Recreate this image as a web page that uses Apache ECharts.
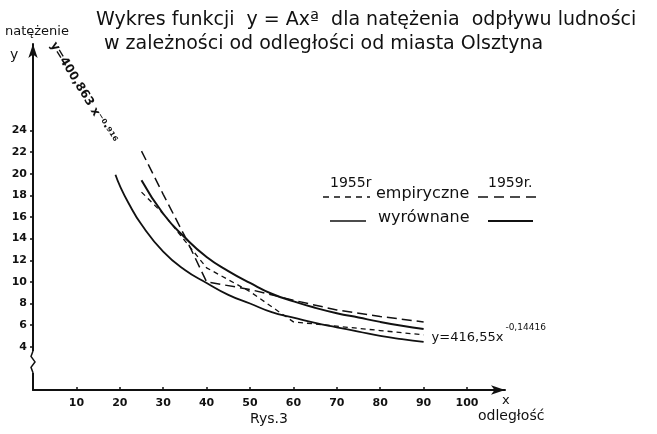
<!DOCTYPE html>
<html>
<head>
<meta charset="utf-8">
<script src="https://cdn.jsdelivr.net/npm/echarts@6/dist/echarts.min.js"></script>
<style>
  html, body { margin: 0; padding: 0; background: #fff; }
  #chart { width: 657px; height: 434px; }
</style>
</head>
<body>
<div id="chart"></div>
<script>
// odległość (x) i natężenie (y)
const xEmp = [25, 30, 35, 40, 50, 60, 70, 80, 90]
const emp1955 = [18.3, 16.3, 13.8, 11.3, 9.1, 6.3, 5.9, 5.5, 5.1]
const emp1959 = [22.1, 18.1, 14.2, 10.0, 9.3, 8.3, 7.4, 6.8, 6.3]

const xFit1955 = [19, 20, 22, 25, 30, 35, 40, 45, 50, 55, 60, 65, 70, 75, 80, 85, 90]
const fit1955 = [19.9, 18.9, 17.3, 15.3, 12.8, 11.1, 9.9, 8.8, 8.0, 7.2, 6.7, 6.2, 5.8, 5.4, 5.0, 4.7, 4.45]
const xFit1959 = [25, 30, 35, 40, 45, 50, 55, 60, 65, 70, 75, 80, 85, 90]
const fit1959 = [19.4, 16.3, 14.1, 12.3, 11.0, 9.9, 8.9, 8.2, 7.6, 7.1, 6.7, 6.3, 5.95, 5.65]

const xTicks = [10, 20, 30, 40, 50, 60, 70, 80, 90, 100]
const yTicks = [4, 6, 8, 10, 12, 14, 16, 18, 20, 22, 24]

const pairs = (xs, ys) => xs.map((x, i) => [x, ys[i]])
const font = 'DejaVu Sans'
const ink = '#111'

const chart = echarts.init(document.getElementById('chart'))

const option = {
  backgroundColor: '#fff',
  animation: false,
  grid: { left: 33, right: 152, top: 44, bottom: 44 },
  xAxis: {
    type: 'value',
    min: 0,
    max: 108.75,
    splitLine: { show: false },
    axisLine: { lineStyle: { color: ink, width: 2 }, symbol: ['none', 'arrow'], symbolSize: [7, 14] },
    axisTick: { customValues: xTicks, inside: true, length: 3, lineStyle: { color: ink, width: 1.5 } },
    axisLabel: { customValues: xTicks, color: ink, fontFamily: font, fontSize: 11, fontWeight: 'bold', margin: 8 }
  },
  yAxis: {
    type: 'value',
    min: 0,
    max: 32,
    splitLine: { show: false },
    axisLine: { lineStyle: { color: ink, width: 2 }, symbol: ['none', 'arrow'], symbolSize: [7, 14] },
    axisTick: { customValues: yTicks, length: 3, lineStyle: { color: ink, width: 1.5 } },
    axisLabel: { customValues: yTicks, color: ink, fontFamily: font, fontSize: 11, fontWeight: 'bold', margin: 6 }
  },
  series: [
    {
      name: '1955 empiryczne',
      type: 'line',
      showSymbol: false,
      data: pairs(xEmp, emp1955),
      lineStyle: { color: ink, width: 1.3, type: [5, 4] }
    },
    {
      name: '1959 empiryczne',
      type: 'line',
      showSymbol: false,
      data: pairs(xEmp, emp1959),
      lineStyle: { color: ink, width: 1.5, type: [10, 5] }
    },
    {
      name: '1955 wyrównane',
      type: 'line',
      smooth: true,
      showSymbol: false,
      data: pairs(xFit1955, fit1955),
      lineStyle: { color: ink, width: 1.8 }
    },
    {
      name: '1959 wyrównane',
      type: 'line',
      smooth: true,
      showSymbol: false,
      data: pairs(xFit1959, fit1959),
      lineStyle: { color: ink, width: 2 },
      endLabel: {
        show: true,
        offset: [0, 5],
        formatter: '{a|y=416,55x}{b|-0,14416}',
        rich: {
          a: { fontFamily: font, fontSize: 13, color: ink, verticalAlign: 'bottom' },
          b: { fontFamily: font, fontSize: 9, color: ink, verticalAlign: 'top', padding: [0, 0, 12, 2] }
        }
      }
    }
  ],
  graphic: [
    { type: 'text', left: 5, top: 25, style: { text: 'natężenie', font: '13px ' + font, fill: ink } },
    { type: 'text', left: 10, top: 48, style: { text: 'y', font: '14px ' + font, fill: ink } },
    { type: 'text', left: 96, top: 11, style: { text: 'Wykres funkcji  y = Axª  dla natężenia  odpływu ludności', font: '19px ' + font, fill: ink } },
    { type: 'text', left: 104, top: 35, style: { text: 'w zależności od odległości od miasta Olsztyna', font: '19px ' + font, fill: ink } },
    {
      type: 'text', x: 58, y: 40, rotation: -1.02,
      style: { text: 'y=400,863 x⁻⁰·⁹¹⁶', font: 'bold 12px ' + font, fill: ink }
    },
    // legenda
    { type: 'text', left: 330, top: 176, style: { text: '1955r', font: '14px ' + font, fill: ink } },
    { type: 'text', left: 488, top: 176, style: { text: '1959r.', font: '14px ' + font, fill: ink } },
    { type: 'line', shape: { x1: 323, y1: 197, x2: 370, y2: 197 }, style: { stroke: ink, lineWidth: 1.3, lineDash: [6, 5] } },
    { type: 'text', left: 376, top: 186, style: { text: 'empiryczne', font: '16px ' + font, fill: ink } },
    { type: 'line', shape: { x1: 478, y1: 197, x2: 536, y2: 197 }, style: { stroke: ink, lineWidth: 1.5, lineDash: [10, 6] } },
    { type: 'line', shape: { x1: 330, y1: 221, x2: 366, y2: 221 }, style: { stroke: ink, lineWidth: 1.3 } },
    { type: 'text', left: 378, top: 210, style: { text: 'wyrównane', font: '16px ' + font, fill: ink } },
    { type: 'line', shape: { x1: 488, y1: 221, x2: 533, y2: 221 }, style: { stroke: ink, lineWidth: 2.2 } },
    // podpisy osi
    { type: 'text', left: 502, top: 394, style: { text: 'x', font: '13px ' + font, fill: ink } },
    { type: 'text', left: 478, top: 409, style: { text: 'odległość', font: '14px ' + font, fill: ink } },
    { type: 'text', left: 250, top: 412, style: { text: 'Rys.3', font: '14px ' + font, fill: ink } }
  ]
}

chart.setOption(option)

// przerwa osi y (zygzak) między 4 a 0
const a = chart.convertToPixel({ gridIndex: 0 }, [0, 3.6])
const b = chart.convertToPixel({ gridIndex: 0 }, [0, 1.6])
const h = (b[1] - a[1]) / 4
chart.setOption({
  graphic: option.graphic.concat([
    { type: 'rect', shape: { x: a[0] - 3, y: a[1], width: 6, height: b[1] - a[1] }, style: { fill: '#fff' }, z: 100 },
    {
      type: 'polyline', z: 101,
      shape: { points: [[a[0], a[1]], [a[0] - 2, a[1] + h], [a[0] + 2, a[1] + 2 * h], [a[0] - 2, a[1] + 3 * h], [a[0], b[1]]] },
      style: { stroke: ink, lineWidth: 1.5, fill: 'none' }
    }
  ])
})
</script>
</body>
</html>
